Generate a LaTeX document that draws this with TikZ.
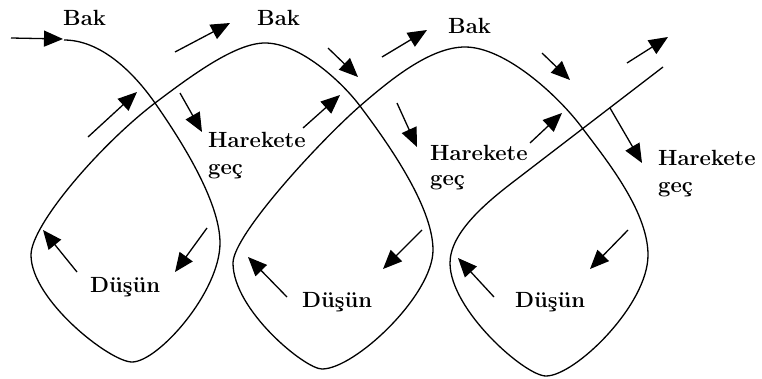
\documentclass[tikz,border=0pt]{standalone}
\usetikzlibrary{arrows.meta}
\begin{document}
\begin{tikzpicture}[x=1pt,y=-1pt,
  lbl/.style={anchor=base west,inner sep=0pt,font=\fontsize{22}{26}\selectfont\bfseries},
  arr/.style={line width=1.3pt,-{Triangle[length=19pt,width=16pt]}},
  loopline/.style={line width=1.3pt,line join=round}]
\useasboundingbox (0,0) rectangle (762,378);
% the looping path
\draw[loopline] (64,40)
  .. controls (105,40) and (139,80) .. (155,103)
  .. controls (178,136) and (220,200) .. (220,243)
  .. controls (220,292) and (158,362) .. (132,362)
  .. controls (110,362) and (31,300) .. (31,255)
  .. controls (31,225) and (100,145) .. (155,103)
  .. controls (191,76) and (235,43) .. (265,43)
  .. controls (300,43) and (342,82) .. (360,106)
  .. controls (384,138) and (433,205) .. (433,250)
  .. controls (433,295) and (355,369) .. (322,369)
  .. controls (305,369) and (233,310) .. (233,263)
  .. controls (233,235) and (320,141) .. (360,106)
  .. controls (390,80) and (430,47) .. (465,47)
  .. controls (505,47) and (557,95) .. (580,125)
  .. controls (604,157) and (648,210) .. (648,255)
  .. controls (648,305) and (575,376) .. (546,376)
  .. controls (525,376) and (450,310) .. (450,263)
  .. controls (450,232) and (488,201) .. (517,179)
  -- (663,67);
% arrows
\draw[arr] (11,38) -- (63,39);
\draw[arr] (88,137) -- (137,92);
\draw[arr] (175,52) -- (230,23);
\draw[arr] (180,93) -- (202,132);
\draw[arr] (77,272) -- (43,230);
\draw[arr] (207,228) -- (175,272);
\draw[arr] (328,48) -- (358,77);
\draw[arr] (303,128) -- (340,95);
\draw[arr] (382,57) -- (427,30);
\draw[arr] (397,103) -- (417,147);
\draw[arr] (287,297) -- (248,257);
\draw[arr] (422,230) -- (383,269);
\draw[arr] (542,53) -- (570,80);
\draw[arr] (530,143) -- (562,113);
\draw[arr] (627,63) -- (668,37);
\draw[arr] (610,108) -- (642,163);
\draw[arr] (494,297) -- (458,258);
\draw[arr] (628,230) -- (590,269);
% labels
\node[lbl] (bak1) at (63,25) {Bak};
\node[lbl] (bak2) at (257,25) {Bak};
\node[lbl] (bak3) at (448,33) {Bak};
\node[lbl] (har1) at (208,147) {Harekete};
\node[lbl] (gec1) at (208,174) {geç};
\node[lbl] (har2) at (430,160) {Harekete};
\node[lbl] (gec2) at (430,185) {geç};
\node[lbl] (har3) at (658,165) {Harekete};
\node[lbl] (gec3) at (658,192) {geç};
\node[lbl] (dus1) at (90,292) {Düşün};
\node[lbl] (dus2) at (302,307) {Düşün};
\node[lbl] (dus3) at (515,307) {Düşün};
\end{tikzpicture}
\end{document}
